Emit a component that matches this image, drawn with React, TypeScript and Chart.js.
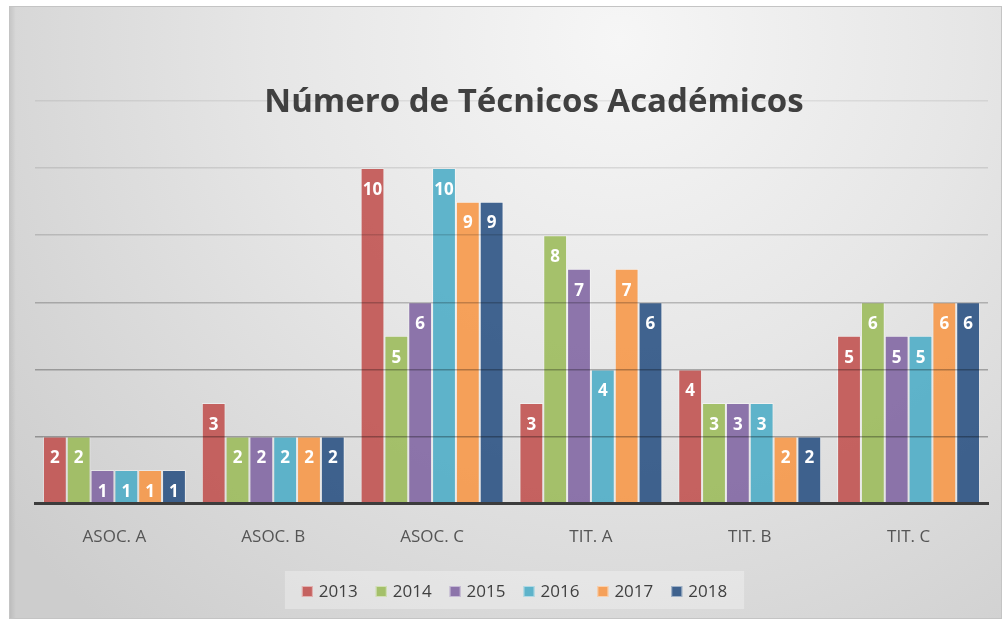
import React, { useEffect, useRef } from 'react';
import { Chart, registerables } from 'chart.js';

Chart.register(...registerables);

const titleText = 'Número de Técnicos Académicos';
const categories = ['ASOC. A', 'ASOC. B', 'ASOC. C', 'TIT. A', 'TIT. B', 'TIT. C'];
const years = ['2013', '2014', '2015', '2016', '2017', '2018'];
const v2013 = [2, 3, 10, 3, 4, 5];
const v2014 = [2, 2, 5, 8, 3, 6];
const v2015 = [1, 2, 6, 7, 3, 5];
const v2016 = [1, 2, 10, 4, 3, 5];
const v2017 = [1, 2, 9, 7, 2, 6];
const v2018 = [1, 2, 9, 6, 2, 6];
const seriesValues = [v2013, v2014, v2015, v2016, v2017, v2018];
const yMax = 12;
const yStep = 2;

const seriesColors = [
  'rgba(192,80,77,0.88)',
  'rgba(155,187,89,0.88)',
  'rgba(128,100,162,0.88)',
  'rgba(75,172,198,0.88)',
  'rgba(247,150,70,0.88)',
  'rgba(31,73,125,0.84)',
];

const FONT = '"Open Sans", "DejaVu Sans", sans-serif';

const gridAlpha: Record<number, number> = { 0: 0, 2: 0.3, 4: 0.28, 6: 0.22, 8: 0.14, 10: 0.1, 12: 0.07 };

const backgroundPlugin = {
  id: 'bgFrame',
  beforeDraw(chart: any) {
    const { ctx, width, height } = chart;
    ctx.save();
    ctx.fillStyle = '#ffffff';
    ctx.fillRect(0, 0, width, height);
    const g = ctx.createRadialGradient(620, 40, 0, 620, 40, 780);
    g.addColorStop(0, '#f6f6f6');
    g.addColorStop(0.45, '#e6e6e6');
    g.addColorStop(1, '#cdcdcd');
    ctx.fillStyle = g;
    ctx.fillRect(10, 7, 991, 611);
    ctx.strokeStyle = '#c4c4c4';
    ctx.lineWidth = 1;
    ctx.strokeRect(9.5, 6.5, 992, 612);
    const sg = ctx.createLinearGradient(10, 0, 16, 0);
    sg.addColorStop(0, 'rgba(0,0,0,0.08)');
    sg.addColorStop(1, 'rgba(0,0,0,0)');
    ctx.fillStyle = sg;
    ctx.fillRect(10, 7, 6, 611);
    ctx.restore();
  },
};

const overlayPlugin = {
  id: 'overlay',
  afterDraw(chart: any) {
    const { ctx } = chart;
    ctx.save();
    // data labels
    ctx.fillStyle = '#ffffff';
    ctx.font = `bold 17px ${FONT}`;
    ctx.textAlign = 'center';
    ctx.textBaseline = 'middle';
    chart.data.datasets.forEach((ds: any, i: number) => {
      const meta = chart.getDatasetMeta(i);
      meta.data.forEach((bar: any, j: number) => {
        ctx.fillText(String(ds.data[j]), bar.x, bar.y + 22);
      });
    });
    // title
    ctx.fillStyle = '#404040';
    ctx.font = `bold 33px ${FONT}`;
    ctx.textAlign = 'center';
    ctx.textBaseline = 'alphabetic';
    ctx.fillText(titleText, 534, 112);
    // legend
    ctx.font = `17px ${FONT}`;
    ctx.textBaseline = 'alphabetic';
    ctx.textAlign = 'left';
    const box = 11;
    const gapText = 6;
    const gapItem = 18;
    const widths = chart.data.datasets.map((ds: any) => box + gapText + ctx.measureText(ds.label).width);
    const total = widths.reduce((a: number, b: number) => a + b, 0) + gapItem * (widths.length - 1);
    let x = 514.5 - total / 2;
    ctx.fillStyle = 'rgba(255,255,255,0.3)';
    ctx.fillRect(x - 17, 571, total + 34, 38);
    chart.data.datasets.forEach((ds: any, i: number) => {
      ctx.fillStyle = ds.backgroundColor;
      ctx.fillRect(x, 586, box, box);
      ctx.strokeStyle = 'rgba(255,255,255,0.5)';
      ctx.lineWidth = 1;
      ctx.strokeRect(x + 0.5, 586.5, box - 1, box - 1);
      ctx.fillStyle = '#404040';
      ctx.fillText(ds.label, x + box + gapText, 597);
      x += widths[i] + gapItem;
    });
    ctx.restore();
  },
};

export default function App() {
  const ref = useRef<HTMLCanvasElement | null>(null);
  useEffect(() => {
    if (!ref.current) return;
    const chart = new Chart(ref.current, {
      type: 'bar',
      data: {
        labels: categories,
        datasets: years.map((y, i) => ({
          label: y,
          data: seriesValues[i],
          backgroundColor: seriesColors[i],
          borderColor: 'rgba(255,255,255,0.45)',
          borderWidth: 1,
          barPercentage: 1,
          categoryPercentage: 0.9,
        })),
      },
      options: {
        responsive: false,
        animation: false,
        layout: { padding: { top: 101, left: 35, right: 14, bottom: 52 } },
        plugins: {
          legend: { display: false },
          title: { display: false },
          tooltip: { enabled: false },
        },
        scales: {
          x: {
            grid: { display: false, drawTicks: false },
            border: { display: true, color: '#3c3c3c', width: 3, z: 1 },
            ticks: {
              color: '#555555',
              font: { family: FONT, size: 17 },
              padding: 23,
              maxRotation: 0,
              autoSkip: false,
            },
          },
          y: {
            min: 0,
            max: yMax,
            ticks: { display: false, stepSize: yStep },
            border: { display: false },
            grid: {
              z: 1,
              drawTicks: false,
              lineWidth: 1.5,
              color: (c: any) => `rgba(0,0,0,${gridAlpha[c.tick?.value] ?? 0.15})`,
            },
          },
        },
      },
      plugins: [backgroundPlugin, overlayPlugin],
    });
    const f = (document as any).fonts;
    if (f && f.load) {
      Promise.all([f.load(`bold 33px "Open Sans"`), f.load(`17px "Open Sans"`)]).then(() => chart.update()).catch(() => {});
    }
    return () => chart.destroy();
  }, []);
  return (
    <div style={{ position: 'fixed', left: 0, top: 0, width: 1002, height: 622 }}>
      <canvas ref={ref} width={1002} height={622} style={{ display: 'block', width: 1002, height: 622 }} />
    </div>
  );
}
